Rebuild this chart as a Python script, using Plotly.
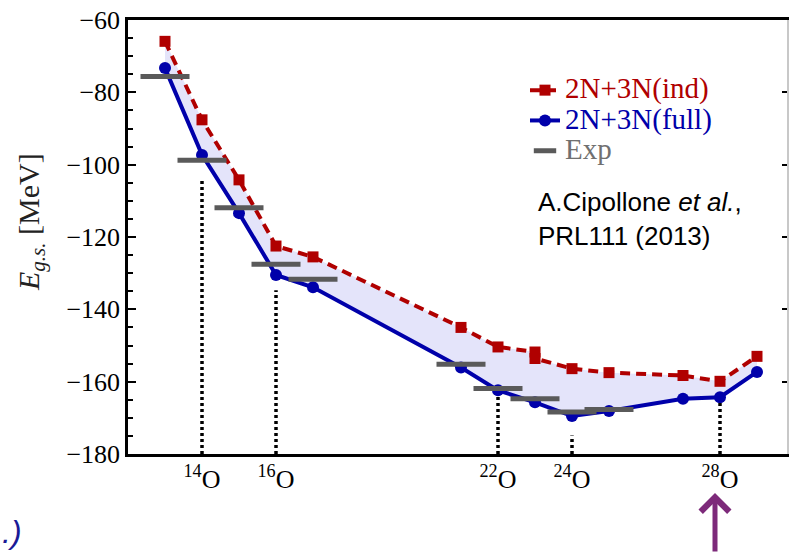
import plotly.graph_objects as go

# Oxygen isotope chain: ground-state energies vs mass number A
A_ind = [13, 14, 15, 16, 17, 21, 22, 23, 23, 24, 25, 27, 28, 29]
E_ind = [-65.9, -87.6, -104.2, -122.5, -125.5, -145.0, -150.4, -151.8, -153.6,
         -156.4, -157.5, -158.3, -159.9, -153.0]

A_full = [13, 14, 15, 16, 17, 21, 22, 23, 24, 25, 27, 28, 29]
E_full = [-73.3, -97.3, -113.4, -130.5, -133.9, -156.1, -162.4, -165.7,
          -169.5, -168.1, -164.7, -164.3, -157.3]

A_exp = [13, 14, 15, 16, 17, 21, 22, 23, 24, 25]
E_exp = [-75.6, -98.8, -111.9, -127.5, -131.7, -155.2, -161.9, -164.7,
         -168.4, -167.7]

# labelled isotopes with their dotted guide heights
A_marked = [14, 16, 22, 24, 28]
guide_top = [-103.7, -134.7, -163.6, -174.9, -165.5]
tick_text = ["<sup>14</sup>O", "<sup>16</sup>O", "<sup>22</sup>O",
             "<sup>24</sup>O", "<sup>28</sup>O"]

RED = "#b00000"
BLUE = "#0000aa"
GREY = "#5a5a5a"
SERIF = "Liberation Serif"
SANS = "Liberation Sans"

W, H = 789, 553
ML, MR, MT, MB = 128, 2, 20, 99
PW, PH = W - ML - MR, H - MT - MB


def px(x):
    return (x - ML) / PW


def py(y):
    return (H - MB - y) / PH


fig = go.Figure()

# band between the two calculations
fig.add_trace(go.Scatter(
    x=A_ind + A_full[::-1], y=E_ind + E_full[::-1],
    fill="toself", fillcolor="#e4e4fa", mode="none",
    hoverinfo="skip", showlegend=False))

# dotted guides under the labelled isotopes (on the right-hand twin axis,
# which shares the same energy range)
for a, top in zip(A_marked, guide_top):
    fig.add_trace(go.Scatter(
        x=[a, a], y=[-180, top], mode="lines", yaxis="y2",
        line=dict(color="black", width=3.5, dash="3px,3px"),
        hoverinfo="skip", showlegend=False))

fig.add_trace(go.Scatter(
    x=A_ind, y=E_ind, mode="lines+markers",
    name=f'<span style="color:{RED};font-size:29px">2N+3N(ind)</span>',
    line=dict(color=RED, width=4, dash="10px,6px"),
    marker=dict(symbol="square", size=11, color=RED)))

fig.add_trace(go.Scatter(
    x=A_full, y=E_full, mode="lines+markers",
    name=f'<span style="color:{BLUE};font-size:29px">2N+3N(full)</span>',
    line=dict(color=BLUE, width=4),
    marker=dict(symbol="circle", size=12, color=BLUE)))

fig.add_trace(go.Scatter(
    x=A_exp, y=E_exp, mode="markers",
    name=f'<span style="color:#707070;font-size:29px">Exp</span>',
    marker=dict(symbol="line-ew", size=35,
                line=dict(color=GREY, width=5))))

fig.update_layout(
    width=W, height=H,
    margin=dict(l=ML, r=MR, t=MT, b=MB),
    paper_bgcolor="white", plot_bgcolor="white",
    showlegend=True,
    legend=dict(x=px(525), y=py(70), xanchor="left", yanchor="top",
                font=dict(family=SERIF, size=21, color="black"),
                bgcolor="rgba(0,0,0,0)", borderwidth=0,
                tracegroupgap=0),
    xaxis=dict(range=[12, 12 + PW / 37.0],
               tickmode="array", tickvals=A_marked, ticktext=tick_text,
               ticks="", showgrid=False, zeroline=False,
               showline=True, linecolor="black", linewidth=2.5, mirror=True,
               tickfont=dict(family=SERIF, size=26, color="black")),
    yaxis=dict(range=[-180, -60], dtick=20, tick0=-180,
               ticks="inside", ticklen=8, tickwidth=2, tickcolor="black",
               minor=dict(dtick=5, ticks="inside", ticklen=5, tickwidth=2,
                          tickcolor="black"),
               showgrid=False, zeroline=False,
               showline=True, linecolor="black", linewidth=2.5,
               tickfont=dict(family=SERIF, size=26, color="black")),
    yaxis2=dict(range=[-180, -60], dtick=20, tick0=-180, overlaying="y",
                side="right", ticks="inside", ticklen=5, tickwidth=2,
                tickcolor="black", showticklabels=False, showgrid=False,
                zeroline=False, showline=True, linecolor="#c8c8c8",
                linewidth=1.5),
)

annotations = [
    dict(text="<i>E</i><sub><i>g.s.</i></sub> [MeV]", textangle=-90,
         x=px(31), y=py(222), xref="paper", yref="paper",
         xanchor="center", yanchor="middle", showarrow=False,
         font=dict(family=SERIF, size=30, color="#222222")),
    dict(text="A.Cipollone <i>et al.</i>,<br>PRL111 (2013)",
         x=px(536), y=py(219), xref="paper", yref="paper",
         xanchor="left", yanchor="middle", align="left", showarrow=False,
         font=dict(family=SANS, size=26, color="black")),
    dict(text="<i>.)</i>", x=px(0), y=py(532), xref="paper", yref="paper",
         xanchor="left", yanchor="middle", showarrow=False,
         font=dict(family=SANS, size=32, color="#1a1a96")),
    dict(text="", x=px(715), y=py(493), xref="paper", yref="paper",
         showarrow=True, ax=0, ay=80, arrowhead=4, arrowsize=1.1,
         arrowwidth=5, arrowcolor="#7d2a7a", standoff=0),
]
fig.update_layout(annotations=annotations)

fig.write_html("out.html")
